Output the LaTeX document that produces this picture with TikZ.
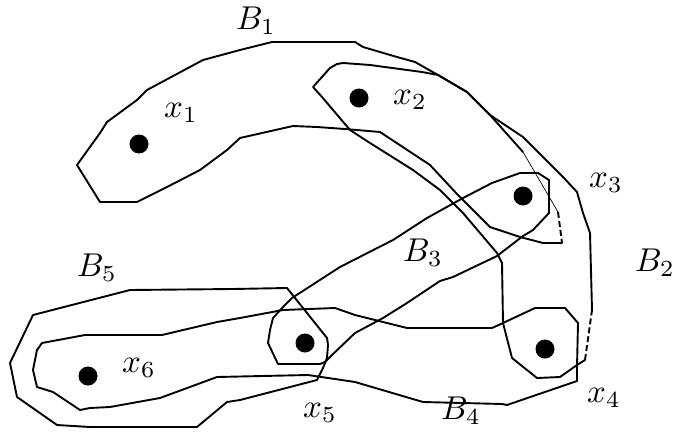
\documentclass[tikz,border=0pt]{standalone}
\tikzset{
  hedge/.style={line width=0.95pt, line join=round, line cap=round},
  thinpart/.style={line width=0.35pt},
  dashpart/.style={line width=0.95pt, dash pattern=on 3pt off 1.5pt},
  vtx/.style={circle, fill=black, inner sep=0pt, minimum size=9.5pt},
  lbl/.style={scale=1.65, inner sep=0pt}
}
\begin{document}
\begin{tikzpicture}[x=0.5pt, y=-0.5pt]
\useasboundingbox (0,0) rectangle (673,433);
% vertices
\node[vtx] (x1) at (139,144) {};
\node[vtx] (x2) at (359,98) {};
\node[vtx] (x3) at (523,196) {};
\node[vtx] (x4) at (545,349) {};
\node[vtx] (x5) at (305,343) {};
\node[vtx] (x6) at (88,376) {};
% labels
\node[lbl] (lB1) at (256,21) {$B_1$};
\node[lbl] (lB2) at (655,263) {$B_2$};
\node[lbl] (lB3) at (423,253) {$B_3$};
\node[lbl] (lB4) at (461,411) {$B_4$};
\node[lbl] (lB5) at (97,268) {$B_5$};
\node[lbl] (lx1) at (181,113) {$x_1$};
\node[lbl] (lx2) at (410,100) {$x_2$};
\node[lbl] (lx3) at (606,183) {$x_3$};
\node[lbl] (lx4) at (604,398) {$x_4$};
\node[lbl] (lx5) at (320,413) {$x_5$};
\node[lbl] (lx6) at (139,368) {$x_6$};
% B1
\draw[hedge] (562,243) -- (543,243) -- (520,237) -- (490,227) -- (457,194) -- (430,165)
  -- (380,132) -- (345,129) -- (317,127) -- (293,126) -- (240,138) -- (227,150)
  -- (200,170) -- (167,187) -- (137,202) -- (100,202) -- (77,165) -- (100,133)
  -- (107,122) -- (137,100) -- (147,90) -- (203,60) -- (240,50) -- (272,42)
  -- (355,42) -- (363,47) -- (397,57) -- (415,62) -- (438,75) -- (467,92)
  -- (490,115) -- (523,152);
\draw[thinpart] (523,152) -- (558,212);
\draw[dashpart] (558,212) -- (562,243);
% B2
\draw[hedge] (592,310) -- (590,233) -- (583,213) -- (577,192) -- (563,177) -- (543,157)
  -- (523,137) -- (490,115) -- (467,92) -- (438,75) -- (422,72) -- (370,65)
  -- (343,63) -- (337,64) -- (330,68) -- (313,87) -- (322,97) -- (350,130)
  -- (370,143) -- (413,170) -- (440,190) -- (463,213) -- (497,253) -- (502,263)
  -- (503,323) -- (512,358) -- (537,378) -- (560,377) -- (577,365) -- (585,360);
\draw[dashpart] (585,360) -- (592,310);
% B3
\draw[hedge] (463,198) -- (492,183) -- (520,173) -- (538,173) -- (549,180) -- (549,213)
  -- (533,230) -- (523,236) -- (497,256) -- (453,277) -- (440,281) -- (407,303)
  -- (383,318) -- (355,333) -- (332,355) -- (325,362) -- (320,364) -- (278,364)
  -- (268,343) -- (270,330) -- (273,318) -- (283,307) -- (292,298) -- (340,267)
  -- (393,240) -- (427,218) -- cycle;
% B4
\draw[hedge] (42,343) -- (85,335) -- (162,335) -- (217,322) -- (240,318) -- (283,310)
  -- (335,308) -- (355,315) -- (407,328) -- (492,328) -- (503,323) -- (535,308)
  -- (565,308) -- (578,323) -- (577,367) -- (577,381) -- (507,405) -- (502,404)
  -- (423,402) -- (355,382) -- (308,375) -- (217,377) -- (160,398) -- (110,407)
  -- (90,408) -- (80,410) -- (53,392) -- (37,387) -- (33,370) -- (37,350) -- cycle;
% B5
\draw[hedge] (130,290) -- (233,289) -- (287,288) -- (295,298) -- (327,338) -- (328,345)
  -- (327,358) -- (323,368) -- (317,380) -- (240,400) -- (227,402) -- (197,427)
  -- (90,427) -- (57,425) -- (17,397) -- (10,363) -- (33,315) -- cycle;
\end{tikzpicture}
\end{document}
